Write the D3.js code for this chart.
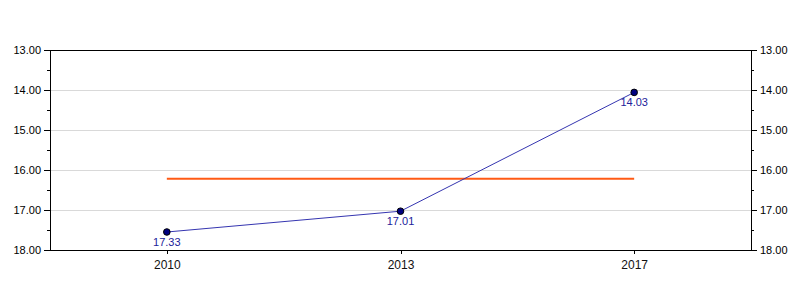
<!DOCTYPE html>
<meta charset="utf-8">
<style>
body { margin: 0; background: #fff; }
text { font-family: "Liberation Sans", Arial, sans-serif; }
</style>
<svg width="800" height="300"></svg>
<script src="https://cdn.jsdelivr.net/npm/d3@7"></script>
<script>

var years = ["2010", "2013", "2017"];
var values = [17.55, 17.03, 14.06];
var pointLabels = ["17.33", "17.01", "14.03"];
var refValue = 16.22;
var yTicks = [13, 14, 15, 16, 17, 18];
var yMinor = [13.5, 14.5, 15.5, 16.5, 17.5];

var svg = d3.select("svg"),
    margin = {top: 50, right: 49, bottom: 50, left: 50},
    width = 800 - margin.left - margin.right,
    height = 300 - margin.top - margin.bottom;

var g = svg.append("g").attr("transform", "translate(" + margin.left + "," + margin.top + ")");

var x = d3.scalePoint().domain(years).range([0, width]).padding(0.5);
var y = d3.scaleLinear().domain([13, 18]).range([0, height]);

// gridlines
g.selectAll(".grid").data(yTicks.slice(1, -1)).enter().append("line")
    .attr("x1", 0).attr("x2", width)
    .attr("y1", function(d) { return y(d); }).attr("y2", function(d) { return y(d); })
    .attr("stroke", "#d9d9d9").attr("shape-rendering", "crispEdges");

// frame top
g.append("line").attr("x1", 0).attr("x2", width).attr("y1", 0).attr("y2", 0)
    .attr("stroke", "#000").attr("shape-rendering", "crispEdges");

function styleAxis(sel) {
  sel.select(".domain").attr("stroke", "#000").attr("shape-rendering", "crispEdges");
  sel.selectAll(".tick line").attr("stroke", "#000").attr("shape-rendering", "crispEdges");
  sel.selectAll("text").attr("fill", "#000").style("font-size", "11px");
}

g.append("g")
    .call(d3.axisLeft(y).tickValues(yTicks).tickFormat(d3.format(".2f")).tickSizeOuter(0).tickSize(6).tickPadding(3))
    .call(styleAxis);
g.append("g").attr("transform", "translate(" + width + ",0)")
    .call(d3.axisRight(y).tickValues(yTicks).tickFormat(d3.format(".2f")).tickSizeOuter(0).tickSize(6).tickPadding(3))
    .call(styleAxis);

// minor ticks
[[0, -3], [width, 3]].forEach(function(s) {
  g.selectAll(null).data(yMinor).enter().append("line")
      .attr("x1", s[0]).attr("x2", s[0] + s[1])
      .attr("y1", function(d) { return y(d); }).attr("y2", function(d) { return y(d); })
      .attr("stroke", "#000").attr("shape-rendering", "crispEdges");
});

var bottom = g.append("g").attr("transform", "translate(0," + height + ")")
    .call(d3.axisBottom(x).tickSizeOuter(0).tickSize(4).tickPadding(6))
    .call(styleAxis);
bottom.select(".domain").attr("d", "M0,0.5H" + width);
bottom.selectAll("text").style("font-size", "12px").attr("fill", "#111");

// reference line
g.append("line")
    .attr("x1", x(years[0])).attr("x2", x(years[years.length - 1]))
    .attr("y1", y(refValue)).attr("y2", y(refValue))
    .attr("stroke", "#ff5a14").attr("stroke-width", 2);

var data = years.map(function(d, i) { return {year: d, value: values[i], label: pointLabels[i]}; });

g.append("path").datum(data)
    .attr("fill", "none").attr("stroke", "#3535b0").attr("stroke-width", 1)
    .attr("d", d3.line().x(function(d) { return x(d.year); }).y(function(d) { return y(d.value); }));

g.selectAll(".pt").data(data).enter().append("circle")
    .attr("cx", function(d) { return x(d.year); })
    .attr("cy", function(d) { return y(d.value); })
    .attr("r", 3.3)
    .attr("fill", "#000080").attr("stroke", "#000").attr("stroke-width", 1);

g.selectAll(".lbl").data(data).enter().append("text")
    .attr("x", function(d) { return x(d.year); })
    .attr("y", function(d) { return y(d.value) + 14; })
    .attr("text-anchor", "middle")
    .attr("fill", "#22229a")
    .style("font-size", "11px")
    .text(function(d) { return d.label; });

</script>
